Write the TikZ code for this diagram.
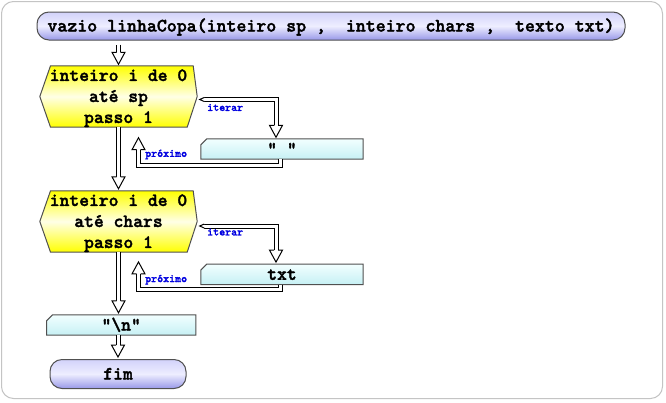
\documentclass[tikz,border=0pt]{standalone}
\usepackage{fontspec}
\usetikzlibrary{calc,backgrounds}
\newfontfamily\codefont{lmmonolt10-bold.otf}[FakeBold=1.8]
\definecolor{frameGray}{HTML}{C4C4C4}
\definecolor{edgeGray}{HTML}{505050}
\definecolor{lavTop}{HTML}{D2D2FA}
\definecolor{lavMid}{HTML}{EEEEFF}
\definecolor{lavBot}{HTML}{9898E8}
\definecolor{loopYellow}{HTML}{FFFF00}
\definecolor{loopLight}{HTML}{FFFFE6}
\definecolor{cyanTop}{HTML}{F2FFFF}
\definecolor{cyanBot}{HTML}{C6F0F4}
\definecolor{labelBlue}{HTML}{0000E0}
% invisible strut fixing the first baseline inside a loop header
\newcommand{\capstrut}{\rule{0pt}{15pt}}

\tikzset{
  codetext/.style={font=\codefont\fontsize{18.7}{21}\selectfont},
  pill/.style={codetext, draw=edgeGray, line width=1pt, rounded corners=12pt,
    top color=lavTop, bottom color=lavBot, middle color=lavMid,
    inner sep=0pt, text height=13pt, text depth=2pt},
  loopbox/.style={codetext, align=center, inner sep=0pt,
    minimum width=157pt, minimum height=61pt},
  hexfill/.style={draw=edgeGray, line width=1pt, line join=miter,
    top color=loopYellow, bottom color=loopYellow, middle color=loopLight},
  procbox/.style={codetext, inner sep=0pt, text height=13pt, text depth=2pt},
  procfill/.style={draw=edgeGray, line width=1pt, line join=miter,
    top color=cyanTop, bottom color=cyanBot},
  lbl/.style={font=\codefont\fontsize{11.4}{12}\selectfont,
    text=labelBlue, inner sep=0pt, anchor=west},
  shaft/.style={draw=black, line width=1pt, double=white,
    double distance=3pt, line join=miter},
  headdown/.pic={
    \fill[white] (0,0) -- (-6.5,-12) -- (6.5,-12) -- cycle;
    \draw[black, line width=1pt, line join=miter]
      (-2,-12) -- (-6.5,-12) -- (0,0) -- (6.5,-12) -- (2,-12);
  },
  tailleft/.pic={
    \fill[white] (0,0) -- (4.5,-2.5) -- (4.5,2.5) -- cycle;
    \draw[black, line width=1pt, line join=miter]
      (4.5,-2) -- (0,0) -- (4.5,2);
  },
}

\begin{document}
\begin{tikzpicture}[x=1pt, y=-1pt]
\useasboundingbox (0,0) rectangle (666,402);

% ---- blocks ----
\node[pill, minimum width=588pt, minimum height=28pt,
      font=\codefont\fontsize{18.95}{21}\selectfont] (top) at (331,26)
  {vazio linhaCopa(inteiro sp ,\ \ inteiro chars ,\ \ texto txt)};
\node[loopbox] (loop1) at (118.5,96.5) {\capstrut inteiro i de 0\\até sp\\passo 1};
\node[procbox, minimum width=162pt, minimum height=20pt] (body1) at (282,149) {" "};
\node[loopbox] (loop2) at (118.5,221.5) {\capstrut inteiro i de 0\\até chars\\passo 1};
\node[procbox, minimum width=162pt, minimum height=20pt] (body2) at (282,274.3) {txt};
\node[procbox, minimum width=149pt, minimum height=20pt] (newline) at (121.2,325)
  {"\textbackslash n"};
\node[pill, minimum width=136pt, minimum height=29pt] (fim) at (118,374) {fim};

% ---- backgrounds: frame, loop hexagons, statement boxes ----
\begin{scope}[on background layer]
  \fill[white] (0,0) rectangle (666,402);
  \draw[frameGray, line width=1pt, rounded corners=12pt] (1.5,1.5) rectangle (662.5,398.5);
  \foreach \h in {loop1,loop2}{
    \draw[hexfill] ($(\h.north west)+(10.7,0)$) -- ($(\h.north east)+(-4,0)$)
      -- (\h.east) -- ($(\h.south east)+(-10,0)$)
      -- ($(\h.south west)+(10.7,0)$) -- (\h.west) -- cycle;
  }
  \foreach \b in {body1,body2,newline}{
    \draw[procfill] ($(\b.north west)+(6,0)$) -- (\b.north east)
      -- (\b.south east) -- (\b.south west)
      -- ($(\b.north west)+(0,6)$) -- cycle;
  }
\end{scope}

% ---- main flow ----
\draw[shaft] ($(loop1.north |- top.south)+(0,4)$) -- ($(loop1.north)+(0,-13)$);
\pic at ($(loop1.north)+(0,-1.5)$) {headdown};

\draw[shaft] (loop1.south) -- ($(loop2.north)+(0,-13.5)$);
\pic at ($(loop2.north)+(0,-2)$) {headdown};

\draw[shaft] (loop2.south) -- ($(loop2.south |- newline.north)+(0,-13.5)$);
\pic at ($(loop2.south |- newline.north)+(0,-2)$) {headdown};

\draw[shaft] (fim.north |- newline.south) -- ($(fim.north)+(0,-13.5)$);
\pic at ($(fim.north)+(0,-2)$) {headdown};

% ---- first loop: iterate / next ----
\coordinate (it1) at ($(loop1.east)+(2.5,3)$);
\draw[shaft] ($(it1)+(4.5,0)$) -| ($(body1.north)+(-6,-13)$);
\pic at (it1) {tailleft};
\pic at ($(body1.north)+(-6,-1.5)$) {headdown};
\node[lbl] (it1lbl) at (207,107.5) {iterar};

\draw[shaft] ($(body1.south)+(-2,0)$) |- ($(loop1.south)+(20,38)$)
  -- ($(loop1.south)+(20,22)$);
\pic[rotate=180] at ($(loop1.south)+(20,10.5)$) {headdown};
\node[lbl] (nx1lbl) at (145,154.5) {próximo};

% ---- second loop: iterate / next ----
\coordinate (it2) at ($(loop2.east)+(2.5,4.5)$);
\draw[shaft] ($(it2)+(4.5,0)$) -| ($(body2.north)+(-6,-13.5)$);
\pic at (it2) {tailleft};
\pic at ($(body2.north)+(-6,-2)$) {headdown};
\node[lbl] (it2lbl) at (207,232) {iterar};

\draw[shaft] ($(body2.south)+(-2,0)$) |- ($(loop2.south)+(20,37.5)$)
  -- ($(loop2.south)+(20,21.5)$);
\pic[rotate=180] at ($(loop2.south)+(20,9.7)$) {headdown};
\node[lbl] (nx2lbl) at (145,279.7) {próximo};
\end{tikzpicture}
\end{document}
